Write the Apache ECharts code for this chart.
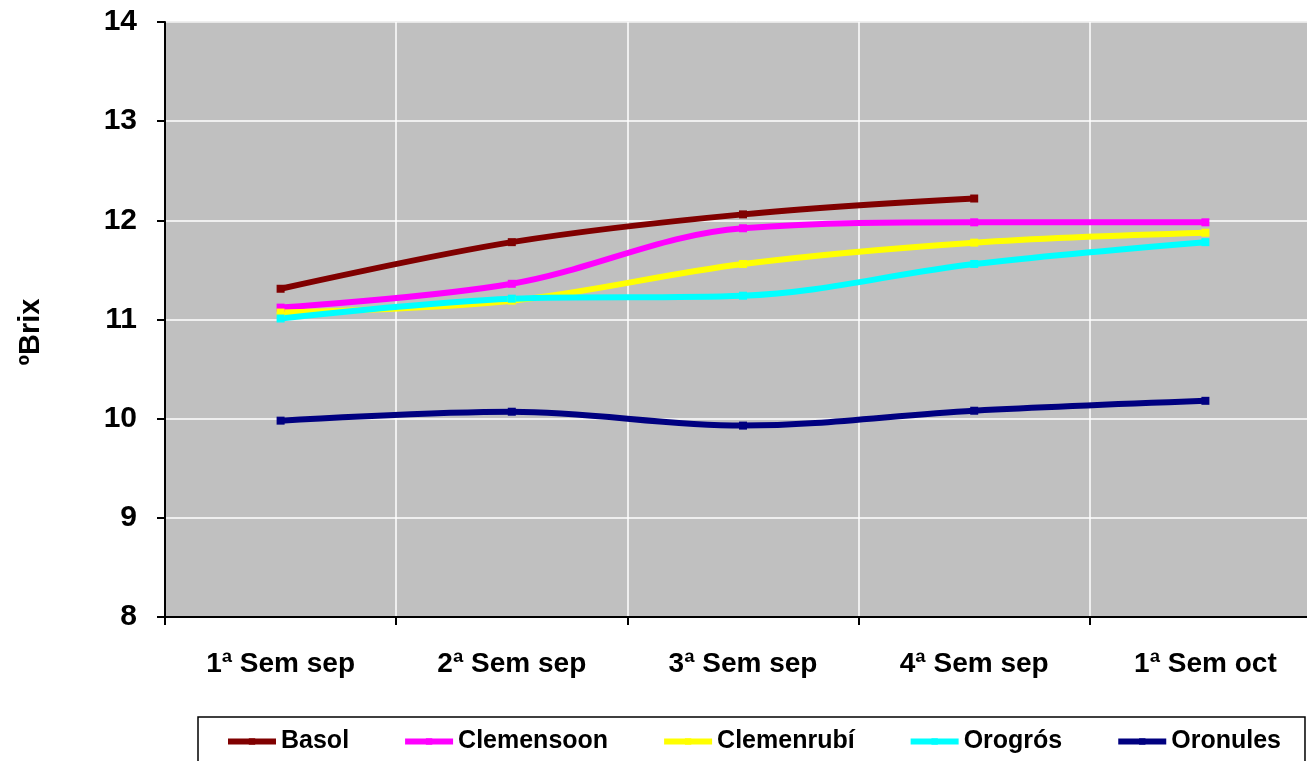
<!DOCTYPE html>
<html>
<head>
<meta charset="utf-8">
<script src="https://cdn.jsdelivr.net/npm/echarts@6/dist/echarts.min.js"></script>
<style>html,body{margin:0;padding:0;background:#fff;}#c{width:1307px;height:761px;}</style>
</head>
<body>
<div id="c"></div>
<script>
const categories = ['1ª Sem sep', '2ª Sem sep', '3ª Sem sep', '4ª Sem sep', '1ª Sem oct'];
const seriesNames = ['Basol', 'Clemensoon', 'Clemenrubí', 'Orogrós', 'Oronules'];
const basol = [11.31, 11.78, 12.06, 12.22, null];
const clemensoon = [11.12, 11.36, 11.92, 11.98, 11.98];
const clemenrubi = [11.07, 11.19, 11.56, 11.775, 11.875];
const orogros = [11.01, 11.21, 11.24, 11.56, 11.78];
const oronules = [9.98, 10.07, 9.93, 10.08, 10.18];
const colors = ['#800000', '#ff00ff', '#ffff00', '#00ffff', '#000080'];
const values = [basol, clemensoon, clemenrubi, orogros, oronules];
const yTicks = {min: 8, max: 14, interval: 1};

const font = "'Liberation Sans', Arial, sans-serif";
const chart = echarts.init(document.getElementById('c'));
chart.setOption({
  animation: false,
  backgroundColor: '#ffffff',
  grid: {left: 165, top: 22, right: -14, bottom: 144, show: true,
         outerBoundsMode: 'none', containLabel: false,
         backgroundColor: '#c0c0c0', borderColor: '#808080', borderWidth: 1},
  graphic: [{
    type: 'text',
    x: 31, y: 332,
    rotation: Math.PI / 2,
    style: {text: 'ºBrix', font: "bold 29px " + font, fill: '#000',
            textAlign: 'center', textVerticalAlign: 'middle'}
  }],
  legend: {
    left: 198, top: 717, width: 1250,
    data: seriesNames,
    itemWidth: 48, itemHeight: 8, itemGap: 53,
    lineStyle: {width: 6},
    borderColor: '#000', borderWidth: 1.5,
    padding: [12, 24, 30, 27],
    textStyle: {fontFamily: font, fontWeight: 'bold', fontSize: 25, color: '#000'}
  },
  xAxis: {
    type: 'category', data: categories, boundaryGap: true,
    axisLine: {lineStyle: {color: '#000', width: 2}},
    axisTick: {show: true, length: 8, lineStyle: {color: '#000', width: 2}},
    splitLine: {show: true, lineStyle: {color: '#ffffff', width: 1.5}},
    axisLabel: {margin: 33, fontFamily: font, fontWeight: 'bold', fontSize: 28, color: '#000'}
  },
  yAxis: {
    type: 'value', min: yTicks.min, max: yTicks.max, interval: yTicks.interval,
    axisLine: {show: true, lineStyle: {color: '#000', width: 2}},
    axisTick: {show: true, length: 8, lineStyle: {color: '#000', width: 2}},
    splitLine: {show: true, lineStyle: {color: '#ffffff', width: 1.5}},
    axisLabel: {margin: 28, fontFamily: font, fontWeight: 'bold', fontSize: 30, color: '#000'}
  },
  series: seriesNames.map((n, i) => ({
    name: n, type: 'line', data: values[i], smooth: 0.35,
    connectNulls: false,
    symbol: 'rect', symbolSize: 8, showSymbol: true,
    itemStyle: {color: colors[i]},
    lineStyle: {color: colors[i], width: 6}
  }))
});
</script>
</body>
</html>
